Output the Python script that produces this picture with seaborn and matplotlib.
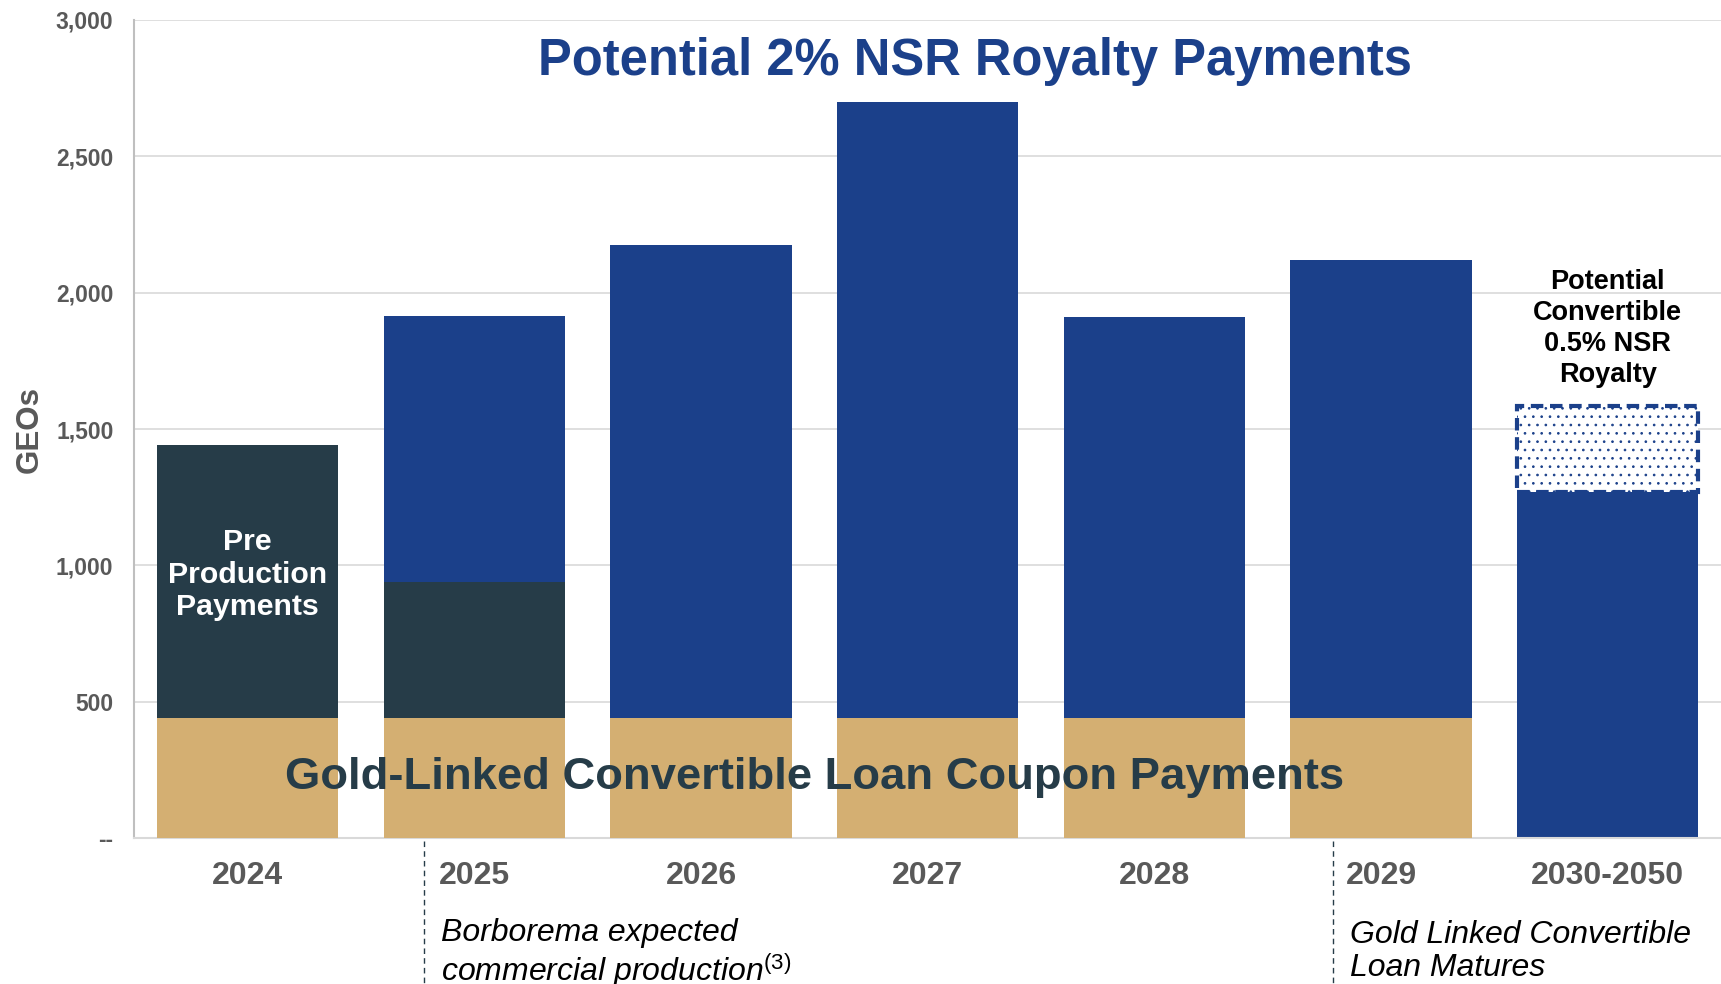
import pandas as pd
import numpy as np
import matplotlib
matplotlib.use("Agg")
import matplotlib.pyplot as plt
import seaborn as sns

years = ["2024", "2025", "2026", "2027", "2028", "2029", "2030-2050"]
coupon = [440, 440, 440, 440, 440, 440, 0]
pre_production = [1000, 500, 0, 0, 0, 0, 0]
royalty = [0, 975, 1735, 2260, 1470, 1680, 1270]
convertible = [0, 0, 0, 0, 0, 0, 315]

NAVY = "#1B408A"
SLATE = "#263C48"
TAN = "#D4AF72"
GRAY = "#595959"

sns.set_style("white")
plt.rcParams['font.family'] = ['Liberation Sans', 'DejaVu Sans']
plt.rcParams['mathtext.fontset'] = 'custom'
plt.rcParams['mathtext.rm'] = 'Liberation Sans'
plt.rcParams['mathtext.it'] = 'Liberation Sans:italic'
plt.rcParams['hatch.linewidth'] = 0.7

df = pd.DataFrame({"year": years, "coupon": coupon, "pre": pre_production,
                   "royalty": royalty, "conv": convertible})
df["pos"] = np.arange(len(years))
df["lvl_pre"] = df["coupon"] + df["pre"]
df["lvl_roy"] = df["lvl_pre"] + df["royalty"]

fig = plt.figure(figsize=(17.21, 9.84), dpi=100)
ax = fig.add_axes([0.078, 0.148, 0.922, 0.832])

# layered bars, tallest first
bar_kw = dict(order=years, width=0.8, saturation=1, linewidth=0, ax=ax)
sns.barplot(data=df, x="year", y="lvl_roy", color=NAVY, zorder=2, **bar_kw)
sns.barplot(data=df, x="year", y="lvl_pre", color=SLATE, zorder=3, **bar_kw)
sns.barplot(data=df, x="year", y="coupon", color=TAN, zorder=4, **bar_kw)

# potential convertible royalty (dotted box)
cv = df[df["conv"] > 0]
ax.bar(cv["pos"], cv["conv"], bottom=cv["lvl_roy"], width=0.8,
       facecolor="white", edgecolor=NAVY, hatch="..", linestyle=(0, (3, 1.6)),
       linewidth=3, zorder=5)

ax.set_xlim(-0.5, 6.5)
ax.set_ylim(0, 3000)
ax.set_yticks([0, 500, 1000, 1500, 2000, 2500, 3000])
ax.set_yticklabels(["--", "500", "1,000", "1,500", "2,000", "2,500", "3,000"])
ax.grid(axis="y", color="#D9D9D9", linewidth=1.2, zorder=0)
ax.set_axisbelow(True)
for s in ["top", "right"]:
    ax.spines[s].set_visible(False)
ax.spines["left"].set_color("#BFBFBF")
ax.spines["bottom"].set_color("#D9D9D9")
ax.spines["left"].set_linewidth(1.5)
ax.spines["bottom"].set_linewidth(1.5)
ax.tick_params(axis="both", length=0)
ax.tick_params(axis="y", pad=15, labelsize=16.5, labelcolor=GRAY)
ax.tick_params(axis="x", pad=16, labelsize=23, labelcolor=GRAY)
for lab in ax.get_xticklabels() + ax.get_yticklabels():
    lab.set_fontweight("bold")
ax.set_xlabel("")
ax.set_ylabel("GEOs", fontsize=22.5, fontweight="bold", color=GRAY, labelpad=8)

ax.text(3.21, 2845, "Potential 2% NSR Royalty Payments", ha="center", va="center",
        fontsize=36.5, fontweight="bold", color=NAVY, zorder=6)
ax.text(2.5, 222, "Gold-Linked Convertible Loan Coupon Payments", ha="center",
        va="center", fontsize=32.7, fontweight="bold", color=SLATE, zorder=6)
ax.text(0, 966, "Pre\nProduction\nPayments", ha="center", va="center",
        fontsize=21.8, fontweight="bold", color="white", linespacing=1.2, zorder=6)
ax.text(6, 1867, "Potential\nConvertible\n0.5% NSR\nRoyalty", ha="center", va="center",
        fontsize=19.5, fontweight="bold", color="black", linespacing=1.25, zorder=6)

# milestone markers below the axis
xt = ax.get_xaxis_transform()
for xpos in [0.78, 4.79]:
    ax.plot([xpos, xpos], [-0.003, -0.2], transform=xt, clip_on=False,
            color=SLATE, linestyle=(0, (4, 3)), linewidth=1)
ax.text(0.854, -0.097, "Borborema expected\ncommercial production$^{\\mathit{(3)}}$",
        transform=xt, ha="left", va="top", fontsize=23, fontstyle="italic",
        color="black", linespacing=1.1)
ax.text(4.865, -0.1, "Gold Linked Convertible\nLoan Matures", transform=xt,
        ha="left", va="top", fontsize=23, fontstyle="italic", color="black",
        linespacing=1.1)

fig.savefig("out.png", dpi=100)
